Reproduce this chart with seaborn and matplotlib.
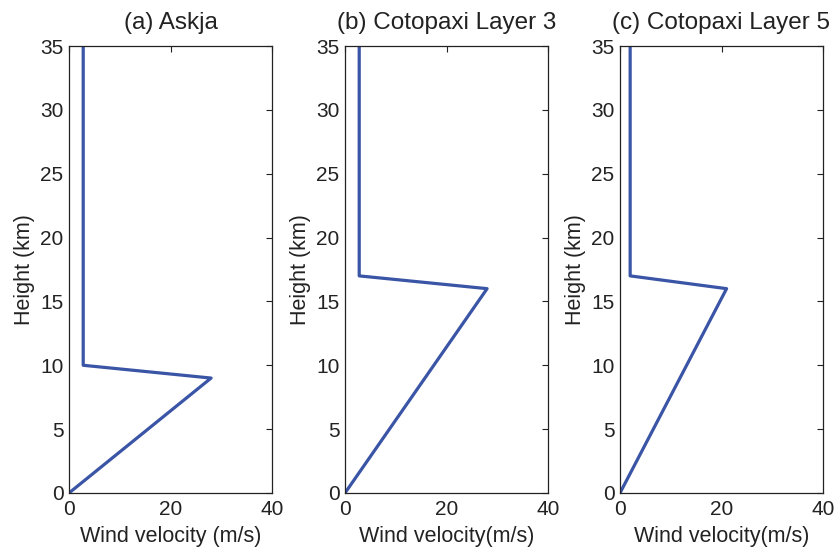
import matplotlib
matplotlib.use("Agg")
import matplotlib.pyplot as plt
import seaborn as sns
import pandas as pd

sns.set_style("white")
plt.rcParams['font.family'] = ['Liberation Sans', 'DejaVu Sans']

titles = ["(a) Askja", "(b) Cotopaxi Layer 3", "(c) Cotopaxi Layer 5"]
xlabels = ["Wind velocity (m/s)", "Wind velocity(m/s)", "Wind velocity(m/s)"]
height_km = [0, 9, 10, 35]
askja_wind = [0, 28, 2.8, 2.8]
height_l3 = [0, 16, 17, 35]
cotopaxi3_wind = [0, 28, 2.8, 2.8]
height_l5 = [0, 16, 17, 35]
cotopaxi5_wind = [0, 21, 2, 2]

series = [(askja_wind, height_km), (cotopaxi3_wind, height_l3), (cotopaxi5_wind, height_l5)]
lefts = [69, 345, 620]

fig = plt.figure(figsize=(8.35, 5.5), dpi=100)
color = "#3a54a6"
for i, ((w, h), t, xl) in enumerate(zip(series, titles, xlabels)):
    ax = fig.add_axes([lefts[i] / 835, 57 / 550, 203 / 835, 447 / 550])
    df = pd.DataFrame({"wind": w, "height": h})
    sns.lineplot(data=df, x="wind", y="height", sort=False, estimator=None,
                 color=color, linewidth=2.3, ax=ax)
    ax.set_xlim(0, 40)
    ax.set_ylim(0, 35)
    ax.set_xticks([0, 20, 40])
    ax.set_yticks(range(0, 36, 5))
    ax.tick_params(direction="in", top=True, right=True, labelsize=15,
                   length=4, width=0.8, colors="#222222", pad=4)
    ax.tick_params(axis="x", pad=5)
    for s in ax.spines.values():
        s.set_color("#222222")
        s.set_linewidth(0.9)
    ax.set_title(t, fontsize=17.5, color="#222222", pad=12)
    ax.set_xlabel(xl, fontsize=15.5, color="#222222", labelpad=5)
    ax.set_ylabel("Height (km)", fontsize=15.5, color="#222222", labelpad=4)

fig.savefig("out.png", dpi=100)
